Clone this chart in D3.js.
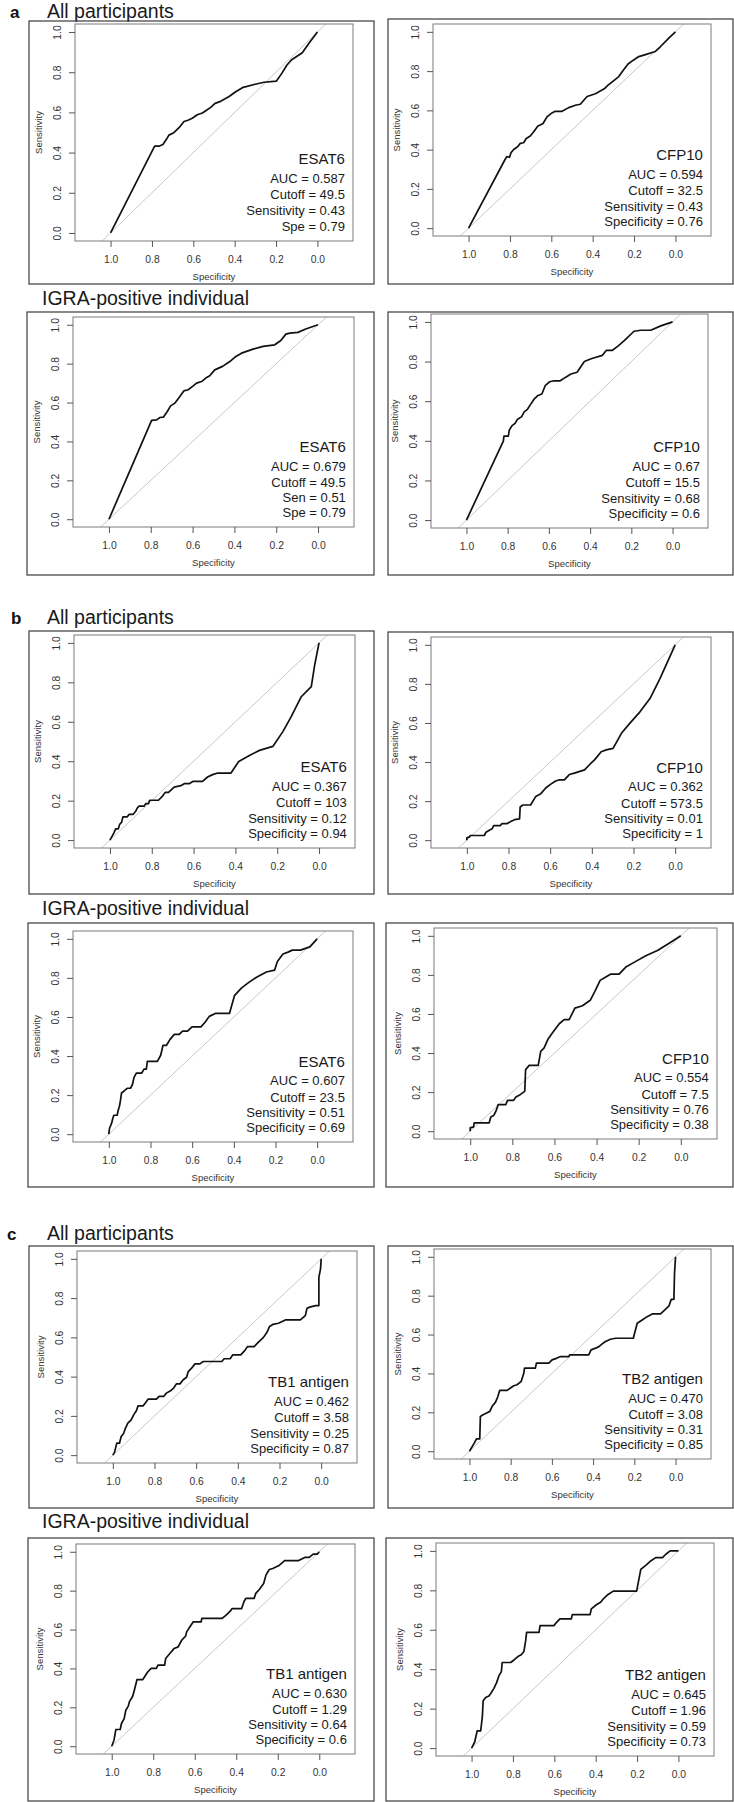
<!DOCTYPE html>
<html>
<head>
<meta charset="utf-8">
<script src="https://cdn.jsdelivr.net/npm/d3@7"></script>
<style>
  body { margin: 0; background: #fff; }
  svg { display: block; font-family: Arial, "Liberation Sans", sans-serif; }
</style>
</head>
<body>
<svg id="chart" width="734" height="1802"></svg>
<script>
// ROC curves: specificity (x, reversed) and sensitivity (y)

// a - All participants
const aAllEsatSpec = [1, 0.787, 0.766, 0.747, 0.73, 0.718, 0.694, 0.669, 0.645, 0.626, 0.605, 0.581, 0.556, 0.54, 0.516, 0.495, 0.468, 0.427, 0.395, 0.363, 0.306, 0.258, 0.198, 0.173, 0.148, 0.126, 0.073, 0.04, 0];
const aAllEsatSens = [0, 0.432, 0.432, 0.44, 0.466, 0.487, 0.499, 0.524, 0.555, 0.561, 0.571, 0.588, 0.597, 0.608, 0.625, 0.645, 0.655, 0.679, 0.703, 0.723, 0.739, 0.75, 0.756, 0.793, 0.835, 0.861, 0.897, 0.945, 1];
const aAllCfpSpec = [1, 0.823, 0.815, 0.802, 0.795, 0.782, 0.763, 0.75, 0.734, 0.721, 0.702, 0.685, 0.666, 0.64, 0.621, 0.597, 0.581, 0.548, 0.516, 0.484, 0.46, 0.427, 0.387, 0.344, 0.327, 0.298, 0.274, 0.253, 0.229, 0.202, 0.177, 0.145, 0.097, 0.073, 0.032, 0];
const aAllCfpSens = [0, 0.351, 0.364, 0.361, 0.384, 0.401, 0.415, 0.432, 0.435, 0.457, 0.469, 0.491, 0.519, 0.533, 0.567, 0.587, 0.595, 0.595, 0.614, 0.626, 0.631, 0.671, 0.685, 0.71, 0.727, 0.752, 0.772, 0.803, 0.836, 0.857, 0.874, 0.884, 0.9, 0.924, 0.968, 1];

// a - IGRA-positive individual
const aIgraEsatSpec = [1, 0.796, 0.772, 0.756, 0.74, 0.721, 0.705, 0.685, 0.661, 0.642, 0.621, 0.597, 0.581, 0.557, 0.537, 0.518, 0.494, 0.457, 0.422, 0.393, 0.366, 0.311, 0.263, 0.207, 0.178, 0.154, 0.135, 0.096, 0.059, 0];
const aIgraEsatSens = [0, 0.508, 0.511, 0.523, 0.525, 0.554, 0.583, 0.597, 0.631, 0.66, 0.666, 0.686, 0.7, 0.708, 0.726, 0.738, 0.768, 0.786, 0.811, 0.837, 0.854, 0.875, 0.889, 0.897, 0.919, 0.952, 0.957, 0.961, 0.978, 1];
const aIgraCfpSpec = [1, 0.821, 0.818, 0.797, 0.792, 0.78, 0.764, 0.753, 0.732, 0.72, 0.704, 0.688, 0.672, 0.655, 0.634, 0.618, 0.597, 0.574, 0.545, 0.52, 0.493, 0.463, 0.428, 0.395, 0.341, 0.322, 0.293, 0.265, 0.233, 0.187, 0.154, 0.106, 0.057, 0];
const aIgraCfpSens = [0, 0.398, 0.424, 0.424, 0.454, 0.475, 0.488, 0.508, 0.522, 0.546, 0.559, 0.585, 0.61, 0.627, 0.636, 0.678, 0.698, 0.703, 0.703, 0.72, 0.737, 0.746, 0.8, 0.814, 0.831, 0.856, 0.856, 0.878, 0.907, 0.953, 0.958, 0.958, 0.98, 1];

// b - All participants
const bAllEsatSpec = [1, 0.981, 0.973, 0.96, 0.954, 0.944, 0.938, 0.917, 0.909, 0.89, 0.877, 0.869, 0.861, 0.837, 0.829, 0.816, 0.81, 0.768, 0.752, 0.736, 0.72, 0.693, 0.661, 0.645, 0.621, 0.602, 0.557, 0.533, 0.509, 0.485, 0.421, 0.384, 0.333, 0.285, 0.221, 0.173, 0.133, 0.085, 0.037, 0.021, 0];
const bAllEsatSens = [0, 0.037, 0.057, 0.057, 0.079, 0.091, 0.118, 0.118, 0.13, 0.13, 0.146, 0.163, 0.172, 0.172, 0.185, 0.185, 0.202, 0.202, 0.219, 0.242, 0.242, 0.269, 0.276, 0.286, 0.286, 0.298, 0.298, 0.32, 0.332, 0.34, 0.34, 0.399, 0.429, 0.455, 0.475, 0.55, 0.626, 0.727, 0.778, 0.887, 1];
const bAllCfpSpec = [1, 1, 0.987, 0.984, 0.916, 0.908, 0.892, 0.879, 0.871, 0.839, 0.831, 0.806, 0.787, 0.771, 0.747, 0.744, 0.731, 0.694, 0.669, 0.645, 0.621, 0.597, 0.576, 0.556, 0.532, 0.508, 0.484, 0.435, 0.408, 0.387, 0.355, 0.331, 0.298, 0.258, 0.218, 0.169, 0.121, 0.073, 0];
const bAllCfpSens = [0, 0.012, 0.017, 0.024, 0.024, 0.041, 0.051, 0.058, 0.075, 0.075, 0.085, 0.085, 0.097, 0.105, 0.109, 0.17, 0.18, 0.18, 0.224, 0.238, 0.267, 0.287, 0.302, 0.309, 0.309, 0.336, 0.343, 0.36, 0.39, 0.411, 0.453, 0.462, 0.47, 0.547, 0.598, 0.657, 0.725, 0.827, 1];

// b - IGRA-positive individual
const bIgraEsatSpec = [1, 0.997, 0.987, 0.981, 0.976, 0.96, 0.955, 0.949, 0.944, 0.939, 0.928, 0.912, 0.896, 0.887, 0.879, 0.868, 0.842, 0.831, 0.82, 0.815, 0.767, 0.751, 0.74, 0.723, 0.707, 0.686, 0.662, 0.646, 0.622, 0.601, 0.558, 0.537, 0.518, 0.489, 0.421, 0.397, 0.365, 0.333, 0.293, 0.244, 0.204, 0.191, 0.164, 0.14, 0.119, 0.08, 0.035, 0];
const bIgraEsatSens = [0, 0.029, 0.055, 0.08, 0.097, 0.097, 0.123, 0.143, 0.174, 0.211, 0.22, 0.235, 0.235, 0.253, 0.291, 0.313, 0.313, 0.333, 0.333, 0.373, 0.373, 0.404, 0.455, 0.455, 0.484, 0.511, 0.511, 0.528, 0.528, 0.549, 0.549, 0.574, 0.603, 0.618, 0.618, 0.709, 0.746, 0.773, 0.802, 0.83, 0.84, 0.884, 0.922, 0.932, 0.942, 0.942, 0.959, 1];
const bIgraCfpSpec = [1, 1, 0.984, 0.981, 0.91, 0.902, 0.889, 0.878, 0.867, 0.831, 0.823, 0.794, 0.783, 0.763, 0.741, 0.737, 0.72, 0.677, 0.665, 0.649, 0.63, 0.604, 0.577, 0.554, 0.53, 0.503, 0.467, 0.43, 0.408, 0.383, 0.356, 0.332, 0.293, 0.261, 0.222, 0.166, 0.111, 0.055, 0];
const bIgraCfpSens = [0, 0.017, 0.022, 0.043, 0.043, 0.073, 0.08, 0.102, 0.136, 0.136, 0.158, 0.158, 0.175, 0.187, 0.204, 0.315, 0.337, 0.337, 0.409, 0.426, 0.472, 0.511, 0.55, 0.571, 0.571, 0.63, 0.642, 0.67, 0.716, 0.772, 0.789, 0.804, 0.804, 0.84, 0.864, 0.898, 0.925, 0.962, 1];

// c - All participants
const cAllTb1Spec = [1, 0.992, 0.981, 0.968, 0.96, 0.949, 0.939, 0.928, 0.912, 0.9, 0.887, 0.879, 0.855, 0.842, 0.831, 0.791, 0.778, 0.756, 0.743, 0.723, 0.707, 0.695, 0.678, 0.662, 0.646, 0.638, 0.622, 0.606, 0.582, 0.566, 0.477, 0.466, 0.437, 0.424, 0.386, 0.365, 0.354, 0.322, 0.301, 0.277, 0.26, 0.248, 0.232, 0.205, 0.172, 0.1, 0.076, 0.068, 0.055, 0.027, 0.011, 0.011, 0.003, 0];
const cAllTb1Sens = [0, 0.014, 0.061, 0.061, 0.095, 0.109, 0.138, 0.163, 0.18, 0.205, 0.226, 0.251, 0.251, 0.268, 0.285, 0.285, 0.299, 0.299, 0.316, 0.328, 0.343, 0.363, 0.363, 0.384, 0.397, 0.426, 0.443, 0.465, 0.465, 0.477, 0.477, 0.491, 0.491, 0.511, 0.511, 0.535, 0.553, 0.553, 0.576, 0.6, 0.626, 0.655, 0.666, 0.672, 0.689, 0.689, 0.711, 0.748, 0.754, 0.762, 0.762, 0.906, 0.949, 1];
const cAllTb2Spec = [1, 0.976, 0.966, 0.95, 0.947, 0.934, 0.917, 0.901, 0.89, 0.874, 0.863, 0.853, 0.817, 0.801, 0.785, 0.769, 0.749, 0.736, 0.733, 0.68, 0.675, 0.615, 0.599, 0.575, 0.558, 0.518, 0.513, 0.421, 0.41, 0.388, 0.372, 0.356, 0.34, 0.316, 0.291, 0.205, 0.186, 0.162, 0.138, 0.113, 0.073, 0.053, 0.032, 0.021, 0.008, 0.005, 0];
const cAllTb2Sens = [0, 0.043, 0.063, 0.063, 0.179, 0.188, 0.197, 0.205, 0.231, 0.251, 0.279, 0.313, 0.313, 0.325, 0.337, 0.342, 0.359, 0.402, 0.427, 0.427, 0.453, 0.453, 0.47, 0.479, 0.487, 0.487, 0.496, 0.496, 0.521, 0.53, 0.538, 0.552, 0.564, 0.576, 0.581, 0.581, 0.658, 0.675, 0.692, 0.706, 0.706, 0.726, 0.747, 0.781, 0.781, 0.915, 1];

// c - IGRA-positive individual
const cIgraTb1Spec = [1, 0.989, 0.98, 0.959, 0.953, 0.94, 0.932, 0.92, 0.915, 0.899, 0.891, 0.878, 0.85, 0.826, 0.81, 0.785, 0.777, 0.745, 0.74, 0.72, 0.699, 0.68, 0.663, 0.644, 0.639, 0.623, 0.607, 0.569, 0.566, 0.468, 0.449, 0.428, 0.42, 0.374, 0.363, 0.354, 0.314, 0.306, 0.289, 0.268, 0.257, 0.241, 0.224, 0.192, 0.167, 0.102, 0.07, 0.049, 0.029, 0.01, 0];
const cIgraTb1Sens = [0, 0.031, 0.086, 0.086, 0.117, 0.142, 0.185, 0.206, 0.228, 0.257, 0.288, 0.343, 0.343, 0.383, 0.4, 0.4, 0.417, 0.417, 0.451, 0.477, 0.503, 0.511, 0.545, 0.566, 0.588, 0.614, 0.64, 0.64, 0.657, 0.657, 0.674, 0.696, 0.708, 0.708, 0.743, 0.76, 0.76, 0.786, 0.806, 0.837, 0.88, 0.909, 0.914, 0.931, 0.954, 0.954, 0.971, 0.971, 0.988, 0.988, 1];
const cIgraTb2Spec = [1, 0.985, 0.973, 0.956, 0.948, 0.944, 0.932, 0.916, 0.905, 0.892, 0.879, 0.868, 0.856, 0.852, 0.811, 0.795, 0.776, 0.76, 0.747, 0.739, 0.734, 0.674, 0.669, 0.602, 0.589, 0.573, 0.518, 0.513, 0.427, 0.421, 0.395, 0.376, 0.363, 0.34, 0.315, 0.202, 0.182, 0.158, 0.134, 0.11, 0.077, 0.061, 0.04, 0];
const cIgraTb2Sens = [0, 0.031, 0.087, 0.087, 0.158, 0.24, 0.257, 0.264, 0.281, 0.303, 0.332, 0.366, 0.388, 0.434, 0.434, 0.447, 0.464, 0.473, 0.49, 0.541, 0.587, 0.587, 0.621, 0.621, 0.638, 0.655, 0.655, 0.677, 0.677, 0.706, 0.728, 0.74, 0.757, 0.779, 0.796, 0.796, 0.906, 0.927, 0.949, 0.966, 0.966, 0.983, 1, 1];

// labels
const sectionLetters = ["a", "b", "c"];
const groupTitles = ["All participants", "IGRA-positive individual"];
const antigenNames = ["ESAT6", "CFP10", "ESAT6", "CFP10", "ESAT6", "CFP10", "ESAT6", "CFP10",
  "TB1 antigen", "TB2 antigen", "TB1 antigen", "TB2 antigen"];
const aucLabels = ["0.587", "0.594", "0.679", "0.67", "0.367", "0.362", "0.607", "0.554", "0.462", "0.470", "0.630", "0.645"];
const cutoffLabels = ["49.5", "32.5", "49.5", "15.5", "103", "573.5", "23.5", "7.5", "3.58", "3.08", "1.29", "1.96"];
const sensLabels = ["Sensitivity = 0.43", "Sensitivity = 0.43", "Sen = 0.51", "Sensitivity = 0.68",
  "Sensitivity = 0.12", "Sensitivity = 0.01", "Sensitivity = 0.51", "Sensitivity = 0.76",
  "Sensitivity = 0.25", "Sensitivity = 0.31", "Sensitivity = 0.64", "Sensitivity = 0.59"];
const specLabels = ["Spe = 0.79", "Specificity = 0.76", "Spe = 0.79", "Specificity = 0.6",
  "Specificity = 0.94", "Specificity = 1", "Specificity = 0.69", "Specificity = 0.38",
  "Specificity = 0.87", "Specificity = 0.85", "Specificity = 0.6", "Specificity = 0.73"];
const tickValues = [0, 0.2, 0.4, 0.6, 0.8, 1.0];

const curves = [
  [aAllEsatSpec, aAllEsatSens], [aAllCfpSpec, aAllCfpSens],
  [aIgraEsatSpec, aIgraEsatSens], [aIgraCfpSpec, aIgraCfpSens],
  [bAllEsatSpec, bAllEsatSens], [bAllCfpSpec, bAllCfpSens],
  [bIgraEsatSpec, bIgraEsatSens], [bIgraCfpSpec, bIgraCfpSens],
  [cAllTb1Spec, cAllTb1Sens], [cAllTb2Spec, cAllTb2Sens],
  [cIgraTb1Spec, cIgraTb1Sens], [cIgraTb2Spec, cIgraTb2Sens]
];

// page layout: outer frame and plot region of every panel [x0, y0, x1, y1]
const frames = [
  [29, 21, 374, 284], [388, 19, 733, 284],
  [27, 312, 374, 575], [388, 312, 733, 575],
  [29, 631, 374, 894], [388, 632, 733, 894],
  [28, 923, 374, 1187], [386, 923, 733, 1187],
  [29, 1246, 374, 1508], [388, 1246, 733, 1508],
  [28, 1538, 374, 1801], [386, 1538, 733, 1801]
];
const plots = [
  [75, 24, 353, 241], [433, 24, 711, 236],
  [73, 317, 354, 527], [431, 314, 708, 528],
  [74, 635, 355, 848], [431, 637, 711, 848],
  [73, 931, 353, 1142], [434, 928, 717, 1139],
  [77, 1251, 357, 1463], [434, 1249, 711, 1459],
  [76, 1544, 355, 1754], [436, 1543, 714, 1756]
];
const headings = [
  { letter: 0, lx: 10, title: 0, y: 18 },
  { letter: null, title: 1, y: 305 },
  { letter: 1, lx: 11, title: 0, y: 624 },
  { letter: null, title: 1, y: 915 },
  { letter: 2, lx: 7, title: 0, y: 1240 },
  { letter: null, title: 1, y: 1528 }
];

const svg = d3.select('#chart');
svg.append('rect').attr('width', 734).attr('height', 1802).attr('fill', '#fff');

// Headings
headings.forEach(h => {
  if (h.letter !== null) {
    svg.append('text')
      .attr('x', h.lx).attr('y', h.y)
      .attr('font-size', 17).attr('font-weight', 'bold').attr('fill', '#111')
      .text(sectionLetters[h.letter]);
  }
  svg.append('text')
    .attr('x', h.title === 0 ? 47 : 42).attr('y', h.y)
    .attr('font-size', 19.5).attr('fill', '#1a1a1a')
    .text(groupTitles[h.title]);
});

const fmt = d3.format('.1f');

curves.forEach((c, i) => {
  const [fx0, fy0, fx1, fy1] = frames[i];
  const [px0, py0, px1, py1] = plots[i];

  // Outer frame
  svg.append('rect')
    .attr('x', fx0).attr('y', fy0)
    .attr('width', fx1 - fx0).attr('height', fy1 - fy0)
    .attr('fill', 'none').attr('stroke', '#4a4a4a').attr('stroke-width', 1.3);

  // Scales (specificity reversed, padded like an asp = 1 plot)
  const x = d3.scaleLinear().domain([1.172, -0.172]).range([px0, px1]);
  const y = d3.scaleLinear().domain([-0.04, 1.04]).range([py1, py0]);

  const g = svg.append('g');

  const clipId = 'clip' + i;
  g.append('clipPath').attr('id', clipId)
    .append('rect').attr('x', px0).attr('y', py0)
    .attr('width', px1 - px0).attr('height', py1 - py0);

  // Reference diagonal
  g.append('line')
    .attr('clip-path', `url(#${clipId})`)
    .attr('x1', x(1.3)).attr('y1', y(-0.3))
    .attr('x2', x(-0.3)).attr('y2', y(1.3))
    .attr('stroke', '#c8c8c8').attr('stroke-width', 1);

  // ROC curve
  const pts = c[0].map((s, k) => [s, c[1][k]]);
  g.append('path')
    .datum(pts)
    .attr('fill', 'none')
    .attr('stroke', '#111')
    .attr('stroke-width', 1.7)
    .attr('stroke-linejoin', 'round')
    .attr('d', d3.line().x(d => x(d[0])).y(d => y(d[1])));

  // Plot box
  g.append('rect')
    .attr('x', px0).attr('y', py0)
    .attr('width', px1 - px0).attr('height', py1 - py0)
    .attr('fill', 'none').attr('stroke', '#7a7a7a').attr('stroke-width', 1);

  // X axis
  const xAxis = g.append('g')
    .attr('transform', `translate(0,${py1})`)
    .call(d3.axisBottom(x).tickValues(tickValues.slice().reverse()).tickFormat(fmt).tickSize(6).tickPadding(9));
  xAxis.select('.domain').remove();
  xAxis.selectAll('line').attr('stroke', '#555');
  xAxis.selectAll('text').attr('font-size', 10.3).attr('fill', '#333')
    .attr('font-family', 'Arial, "Liberation Sans", sans-serif');

  // Y axis with rotated labels
  const yAxis = g.append('g')
    .attr('transform', `translate(${px0},0)`)
    .call(d3.axisLeft(y).tickValues(tickValues).tickFormat(fmt).tickSize(6));
  yAxis.select('.domain').remove();
  yAxis.selectAll('line').attr('stroke', '#555');
  yAxis.selectAll('text')
    .attr('x', null).attr('dy', null)
    .attr('transform', 'translate(-14.5,0) rotate(-90)')
    .attr('text-anchor', 'middle')
    .attr('font-size', 10.3).attr('fill', '#333')
    .attr('font-family', 'Arial, "Liberation Sans", sans-serif');

  // Axis titles
  g.append('text')
    .attr('x', (px0 + px1) / 2).attr('y', py1 + 39)
    .attr('text-anchor', 'middle')
    .attr('font-size', 9.5).attr('fill', '#333')
    .text('Specificity');
  g.append('text')
    .attr('transform', `translate(${px0 - 33},${(py0 + py1) / 2}) rotate(-90)`)
    .attr('text-anchor', 'middle')
    .attr('font-size', 9.5).attr('fill', '#333')
    .text('Sensitivity');

  // Annotation block
  const ax = x(-0.133);
  g.append('text')
    .attr('x', ax).attr('y', y(0.345))
    .attr('text-anchor', 'end').attr('font-size', 15).attr('fill', '#1a1a1a')
    .text(antigenNames[i]);
  const lines = ['AUC = ' + aucLabels[i], 'Cutoff = ' + cutoffLabels[i], sensLabels[i], specLabels[i]];
  const lineY = [0.25, 0.167, 0.088, 0.01];
  lines.forEach((t, k) => {
    g.append('text')
      .attr('x', ax).attr('y', y(lineY[k]))
      .attr('text-anchor', 'end').attr('font-size', 13).attr('fill', '#1a1a1a')
      .text(t);
  });
});
</script>
</body>
</html>
